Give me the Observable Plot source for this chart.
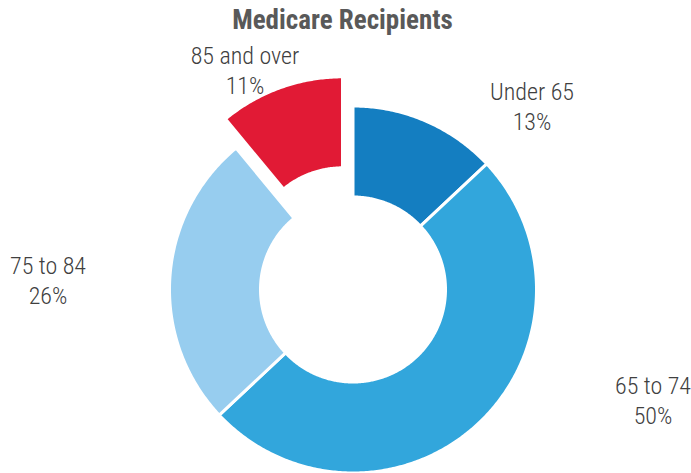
<!DOCTYPE html>
<html>
<head>
<meta charset="utf-8">
<script src="https://cdn.jsdelivr.net/npm/d3@7"></script>
<script src="https://cdn.jsdelivr.net/npm/@observablehq/plot@0.6"></script>
<style>
  html, body { margin: 0; padding: 0; background: #ffffff; }
  #chart { width: 691px; height: 473px; }
  svg text { font-family: "Liberation Sans Narrow", "Arial Narrow", "Roboto Condensed", "Liberation Sans", sans-serif; }
</style>
</head>
<body>
<div id="chart"></div>
<script>
// ---- data ----
const title = "Medicare Recipients";
const categories = ["Under 65", "65 to 74", "75 to 84", "85 and over"];
const values = [13, 50, 26, 11];
const exploded = [false, false, false, true];
const colors = ["#147ec1", "#32a6dc", "#97cdef", "#e11a35"];

// ---- layout (pixel units; chart centre at origin) ----
const W = 691, H = 473;
const CX = 352.5, CY = 289;          // donut centre in the SVG
const R_OUT = 183.5, R_IN = 92.5, EXPLODE = 31;
// label block-centre offsets relative to donut centre (px, y downward)
const labelOffsets = [[179, -184], [300, 110], [-305, -10], [-108, -220]];

const total = d3.sum(values);
const pie = d3.pie().sort(null).value(d => d)(values);

// build polygon rings for each slice
const ringPts = [];
pie.forEach((p, i) => {
  const a0 = p.startAngle, a1 = p.endAngle, mid = (a0 + a1) / 2;
  const ox = exploded[i] ? EXPLODE * Math.sin(mid) : 0;
  const oy = exploded[i] ? EXPLODE * Math.cos(mid) : 0;
  const n = Math.max(8, Math.ceil((a1 - a0) / 0.01));
  for (let k = 0; k <= n; k++) {
    const a = a0 + (a1 - a0) * k / n;
    ringPts.push({cat: categories[i], x: ox + R_OUT * Math.sin(a), y: oy + R_OUT * Math.cos(a)});
  }
  for (let k = n; k >= 0; k--) {
    const a = a0 + (a1 - a0) * k / n;
    ringPts.push({cat: categories[i], x: ox + R_IN * Math.sin(a), y: oy + R_IN * Math.cos(a)});
  }
});

const labels = categories.map((c, i) => ({
  cat: c,
  text: c + "\n" + Math.round(values[i] / total * 100) + "%",
  x: labelOffsets[i][0],
  y: -labelOffsets[i][1]
}));

const chart = Plot.plot({
  width: W,
  height: H,
  margin: 0,
  x: {domain: [-CX, W - CX], axis: null},
  y: {domain: [-(H - CY), CY], axis: null},
  color: {domain: categories, range: colors},
  marks: [
    Plot.line(ringPts, {x: "x", y: "y", z: "cat", fill: "cat", stroke: "white", strokeWidth: 3, curve: "linear-closed"}),
    Plot.text(labels, {x: "x", y: "y", text: "text", fontSize: 24, fontWeight: 300, fill: "#404040", lineHeight: 1.25, textAnchor: "middle"}),
    Plot.text([title], {x: () => -10.5, y: () => CY - 20, text: d => d, fontSize: 27, fontWeight: "bold", fill: "#595959", textAnchor: "middle"})
  ]
});
document.getElementById("chart").appendChild(chart);
</script>
</body>
</html>
